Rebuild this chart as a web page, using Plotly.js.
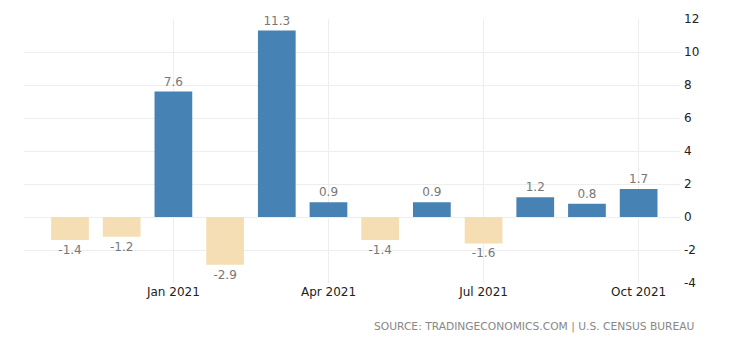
<!DOCTYPE html>
<html>
<head>
<meta charset="utf-8">
<script src="https://cdn.plot.ly/plotly-3.0.1.min.js"></script>
<style>html,body{margin:0;padding:0;background:#fff;}#chart{width:740px;height:345px;}</style>
</head>
<body>
<div id="chart"></div>
<script>
var months = ["Nov 2020","Dec 2020","Jan 2021","Feb 2021","Mar 2021","Apr 2021","May 2021","Jun 2021","Jul 2021","Aug 2021","Sep 2021","Oct 2021"];
var values = [-1.4, -1.2, 7.6, -2.9, 11.3, 0.9, -1.4, 0.9, -1.6, 1.2, 0.8, 1.7];
var tickMonths = ["Jan 2021","Apr 2021","Jul 2021","Oct 2021"];
var yTicks = [-4,-2,0,2,4,6,8,10,12];

var colors = values.map(function(v){ return v >= 0 ? "#4682B4" : "#F5DEB3"; });

var trace = {
  type: "bar",
  x: months,
  y: values,
  marker: {color: colors, line: {width: 0}},
  text: values.map(function(v){ return String(v); }),
  textposition: "outside",
  cliponaxis: false,
  textfont: {family: "DejaVu Sans", size: 12, color: "#777"},
  hoverinfo: "none"
};

var layout = {
  width: 740, height: 345,
  margin: {l: 24, r: 60, t: 19, b: 62},
  paper_bgcolor: "#fff", plot_bgcolor: "#fff",
  showlegend: false,
  bargap: 0.27,
  xaxis: {
    type: "category",
    range: [-0.89, 11.8],
    tickvals: tickMonths,
    ticktext: tickMonths,
    showgrid: true, gridcolor: "#eeeeee", gridwidth: 1,
    zeroline: false, showline: false, ticks: "",
    tickfont: {family: "DejaVu Sans", size: 12, color: "#222"}
  },
  yaxis: {
    side: "right",
    range: [-4, 12],
    tickvals: yTicks,
    ticktext: yTicks.map(function(v){ return String(v); }),
    showgrid: true, gridcolor: "#eeeeee", gridwidth: 1,
    zeroline: false, showline: false, ticks: "",
    ticklabelstandoff: 3,
    tickfont: {family: "DejaVu Sans", size: 12, color: "#222"}
  },
  annotations: [{
    text: "SOURCE: TRADINGECONOMICS.COM | U.S. CENSUS BUREAU",
    xref: "paper", yref: "paper",
    x: 1.0, y: -0.163, xanchor: "right", yanchor: "middle",
    xshift: 16,
    showarrow: false,
    font: {family: "DejaVu Sans", size: 10.7, color: "#888"}
  }]
};

Plotly.newPlot("chart", [trace], layout, {displayModeBar: false, staticPlot: true});
</script>
</body>
</html>
